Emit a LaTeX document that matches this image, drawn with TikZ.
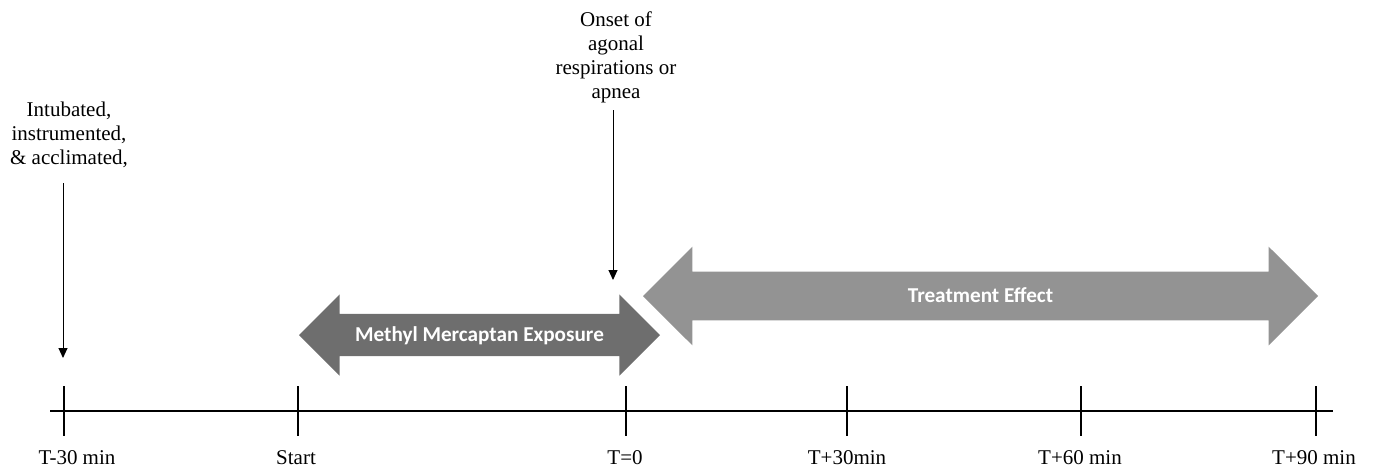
\documentclass[tikz,border=0pt]{standalone}
\usepackage{fontspec}
\setmainfont{Liberation Serif}
\newfontfamily\calfont{Carlito}
\usepackage{tikz}
\usetikzlibrary{positioning,shapes.arrows,arrows.meta}

\definecolor{darkband}{HTML}{6E6E6E}
\definecolor{lightband}{HTML}{939393}

\begin{document}
\begin{tikzpicture}[
    x=0.5pt, y=-0.5pt,
    every node/.style={font=\fontsize{10.5}{12}\selectfont, inner sep=0pt},
    band/.style={double arrow, double arrow tip angle=90, text=white,
        font=\calfont\bfseries\fontsize{10.6}{12}\selectfont,
        text height=6.8pt, text depth=0pt, inner xsep=0pt},
    pointer/.style={-{Triangle[length=5pt,width=4.5pt]}, line width=0.5pt},
    tick/.style={line width=0.8pt},
    axis/.style={line width=1.3pt}
]
    \useasboundingbox (0,0) rectangle (1373,472);

    % timeline
    \coordinate (tl) at (50,411);
    \coordinate (tr) at (1333,411);
    \draw[axis] (tl) -- (tr);
    \foreach \name/\x/\lx/\txt in {m30/64/77/T-30 min, start/298/296/Start, zero/626/625/T=0,
        p30/847/847/T+30min, p60/1081/1080/T+60 min, p90/1316/1314/T+90 min} {
        \coordinate (\name) at (\x,411);
        \draw[tick] ([yshift=12.5pt]\name) -- ([yshift=-12.5pt]\name);
        \node[anchor=base] (\name-lbl) at (\lx,464) {\txt};
    }

    % exposure and treatment bands
    \node[band, fill=darkband, minimum height=180.5pt, inner ysep=7pt,
        double arrow head extend=9.75pt] (exposure) at (479.5,335) {Methyl Mercaptan Exposure};
    \node[band, fill=lightband, minimum height=337.5pt, inner ysep=8.6pt,
        double arrow head extend=12.5pt] (treatment) at (980.5,296) {Treatment Effect};

    % events
    \node[align=center] (intub) at (69,135) {Intubated,\\instrumented,\\\& acclimated,};
    \coordinate (intubtip) at (63,358);
    \draw[pointer] ([yshift=-7.5pt]intubtip |- intub.south) -- (intubtip);

    \node[align=center] (onset) at (616,57) {Onset of\\agonal\\respirations or\\apnea};
    \coordinate (onsettip) at (613,280);
    \draw[pointer] ([yshift=-3.5pt]onsettip |- onset.south) -- (onsettip);
\end{tikzpicture}
\end{document}
